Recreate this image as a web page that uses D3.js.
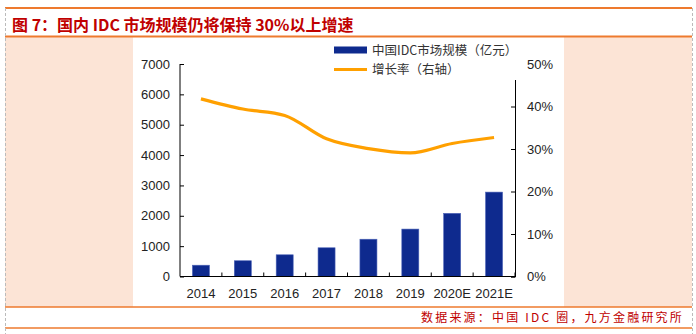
<!DOCTYPE html>
<html>
<head>
<meta charset="utf-8">
<script src="https://cdn.jsdelivr.net/npm/d3@7"></script>
<style>
  html, body { margin: 0; padding: 0; background: #fff; }
  svg { display: block; }
</style>
</head>
<body>
<div id="chart"></div>
<script>
// categories and series
const years = ["2014", "2015", "2016", "2017", "2018", "2019", "2020E", "2021E"];
const marketSize = [372, 519, 715, 946, 1228, 1562, 2080, 2780];   // 亿元
const growthRate = [41.8, 39.4, 37.9, 32.4, 30.1, 29.1, 31.3, 32.7]; // %
const leftTicks = [0, 1000, 2000, 3000, 4000, 5000, 6000, 7000];
const rightTicks = [0, 10, 20, 30, 40, 50];

const W = 696, H = 334;
const cjk = "'Noto Sans CJK SC', 'Liberation Sans', sans-serif";
const num = "'Liberation Sans', Arial, sans-serif";
const red = "#C00000";
const orangeRule = "#EE7A2E";

const svg = d3.select("#chart").append("svg")
  .attr("width", W).attr("height", H);

// frame: pink panel, white plot panel, rules, dashed sides
svg.append("rect").attr("x", 5).attr("y", 37).attr("width", 687).attr("height", 270)
  .attr("fill", "#FCE4D6");
svg.append("rect").attr("x", 133).attr("y", 37).attr("width", 431).attr("height", 270)
  .attr("fill", "#fff");

[8, 36.5, 307, 328].forEach(y => {
  svg.append("line").attr("x1", 5).attr("x2", 692).attr("y1", y).attr("y2", y)
    .attr("stroke", orangeRule).attr("stroke-width", y === 8 || y === 36.5 ? 2 : 1.5);
});
[5.5, 692.5].forEach(x => {
  svg.append("line").attr("x1", x).attr("x2", x).attr("y1", 8).attr("y2", H)
    .attr("stroke", "#bbb").attr("stroke-dasharray", "3,2");
});

// title and source
svg.append("text").attr("x", 12).attr("y", 31)
  .attr("font-family", cjk).attr("font-size", 16).attr("font-weight", "bold")
  .attr("fill", red)
  .text("图 7：国内 IDC 市场规模仍将保持 30%以上增速");

svg.append("text").attr("x", 684).attr("y", 322)
  .attr("text-anchor", "end")
  .attr("font-family", cjk).attr("font-size", 12).attr("letter-spacing", 2.2)
  .attr("fill", red)
  .text("数据来源：中国 IDC 圈，九方金融研究所");

// scales
const x = d3.scaleBand().domain(years).range([180, 515]);
const yL = d3.scaleLinear().domain([0, 7000]).range([276.5, 64]);
const yR = d3.scaleLinear().domain([0, 50]).range([276.5, 64]);

const g = svg.append("g");

// bars
g.selectAll("rect.bar")
  .data(years)
  .join("rect")
  .attr("class", "bar")
  .attr("x", d => x(d) + x.bandwidth() / 2 - 8.5)
  .attr("width", 17)
  .attr("y", (d, i) => yL(marketSize[i]))
  .attr("height", (d, i) => yL(0) - yL(marketSize[i]))
  .attr("fill", "#0E2A8E")
  .attr("stroke", "#4C63B8")
  .attr("stroke-width", 0.6);

// left axis
const leftAxis = d3.axisLeft(yL).tickValues(leftTicks)
  .tickFormat(d3.format("d")).tickSize(-4).tickPadding(10);
const gl = g.append("g").attr("transform", "translate(180,0)").call(leftAxis);

// right axis
const rightAxis = d3.axisRight(yR).tickValues(rightTicks)
  .tickFormat(d => d + "%").tickSize(-4).tickPadding(12);
const gr = g.append("g").attr("transform", "translate(515,0)").call(rightAxis);

// bottom axis with upward ticks at the band edges
const gb = g.append("g").attr("transform", `translate(0,${yL(0)})`);
gb.append("line").attr("x1", 180).attr("x2", 515).attr("stroke", "#000");
gb.selectAll("line.sep")
  .data(years)
  .join("line")
  .attr("class", "sep")
  .attr("x1", d => x(d) + x.bandwidth()).attr("x2", d => x(d) + x.bandwidth())
  .attr("y1", 0).attr("y2", -4)
  .attr("stroke", "#000");
gb.selectAll("text")
  .data(years)
  .join("text")
  .attr("x", d => x(d) + x.bandwidth() / 2)
  .attr("y", 21)
  .attr("text-anchor", "middle")
  .attr("font-family", num).attr("font-size", 13)
  .attr("fill", "#222")
  .text(d => d);

[gl, gr].forEach(a => {
  a.select(".domain").attr("stroke", "#000");
  a.selectAll(".tick line").attr("stroke", "#000");
  a.selectAll("text").attr("font-family", num).attr("font-size", 13).attr("fill", "#222");
});
gl.select(".domain").attr("d", "M0,64V276.5");

// growth line
const line = d3.line()
  .x((d, i) => x(years[i]) + x.bandwidth() / 2)
  .y(d => yR(d))
  .curve(d3.curveMonotoneX);
g.append("path")
  .datum(growthRate)
  .attr("d", line)
  .attr("fill", "none")
  .attr("stroke", "#FFA000")
  .attr("stroke-width", 3.2)
  .attr("stroke-linejoin", "round");

// legend (white box hides top of right axis)
const lg = svg.append("g");
lg.append("rect").attr("x", 328).attr("y", 40).attr("width", 196).attr("height", 40)
  .attr("fill", "#fff");
lg.append("rect").attr("x", 334).attr("y", 46.5).attr("width", 33).attr("height", 7)
  .attr("fill", "#0E2A8E");
lg.append("line").attr("x1", 334).attr("x2", 367).attr("y1", 69.5).attr("y2", 69.5)
  .attr("stroke", "#FFA000").attr("stroke-width", 3.2);
lg.append("text").attr("x", 372).attr("y", 54.5)
  .attr("font-family", cjk).attr("font-size", 12.5).attr("fill", "#333")
  .text("中国IDC市场规模（亿元）");
lg.append("text").attr("x", 372).attr("y", 74)
  .attr("font-family", cjk).attr("font-size", 12.5).attr("fill", "#333")
  .text("增长率（右轴）");
</script>
</body>
</html>
